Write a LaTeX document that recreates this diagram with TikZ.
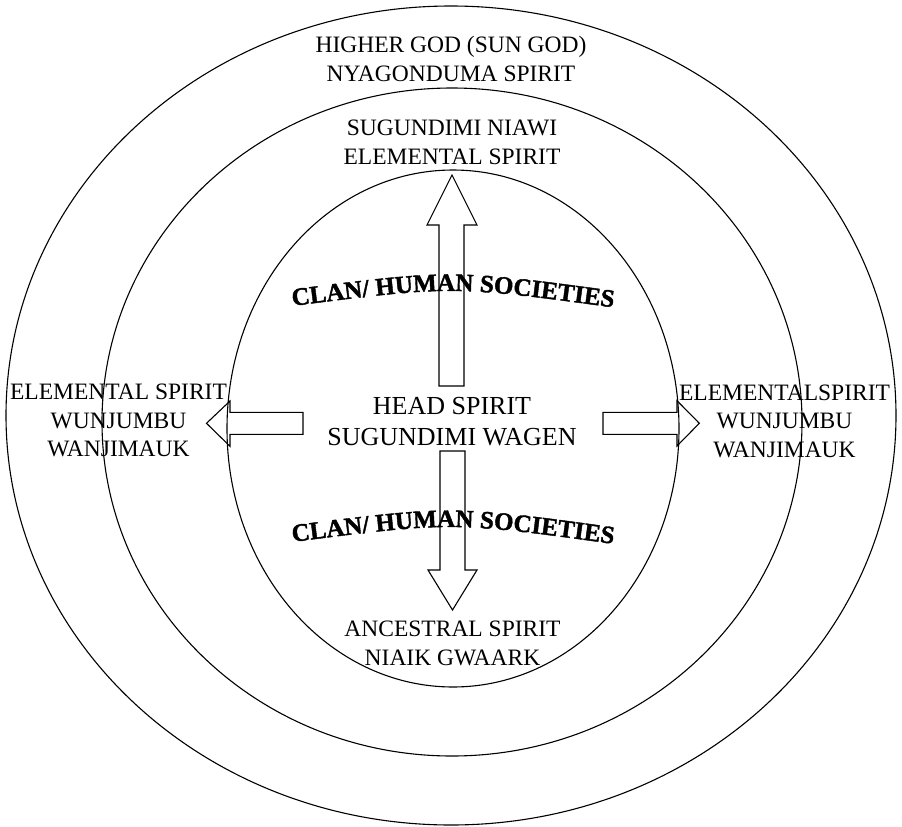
\documentclass[tikz,border=0pt]{standalone}
\usepackage{fontspec}
\setmainfont{Liberation Serif}
\newfontfamily\clanfont[FakeBold=1.6]{Liberation Serif Bold}
\usetikzlibrary{decorations.text}

\begin{document}
\begin{tikzpicture}[
  x=1pt, y=-1pt,
  font=\fontsize{23.5}{28.5}\selectfont,
  ring/.style={draw, line width=1.1pt},
  spirit/.style={align=center, anchor=base, inner sep=0pt},
  blockarrow/.style={draw, line width=1.1pt, line join=miter},
  clan/.style={decorate, decoration={text along path, text align=center,
      text format delimiters={|}{|},
      text={|\clanfont\fontsize{25}{27}\selectfont|CLAN/ HUMAN SOCIETIES}}}
]
\useasboundingbox (0,0) rectangle (902,827);

\draw[ring] (451,415.5) ellipse [x radius=445, y radius=409.5];
\draw[ring] (452,422) ellipse [x radius=350, y radius=334];
\draw[ring] (453,428.5) ellipse [x radius=226, y radius=258.5];

\node[spirit] (higher) at (451,81) {HIGHER GOD (SUN GOD)\\NYAGONDUMA SPIRIT};
\node[spirit] (niawi) at (452,164) {SUGUNDIMI NIAWI\\ELEMENTAL SPIRIT};
\node[spirit, font=\fontsize{26}{31}\selectfont] (head) at (452,445) {HEAD SPIRIT\\SUGUNDIMI WAGEN};
\node[spirit] (westspirit) at (118.5,456.5) {ELEMENTAL SPIRIT\\WUNJUMBU\\WANJIMAUK};
\node[spirit] (eastspirit) at (784.5,457) {ELEMENTALSPIRIT\\WUNJUMBU\\WANJIMAUK};
\node[spirit] (ancestral) at (452.5,665) {ANCESTRAL SPIRIT\\NIAIK GWAARK};

\path[clan] (288,306.5) .. controls (452,285.5) .. (618,308);
\path[clan] (288,542.5) .. controls (452,521.5) .. (618,544.5);

\draw[blockarrow] (439,386) -- (439,225) -- (427,225) -- (452,175) -- (477,225) -- (464,225) -- (464,386) -- cycle;
\draw[blockarrow] (440,451) -- (440,570) -- (428,570) -- (452.5,610) -- (477,570) -- (465,570) -- (465,451) -- cycle;
\draw[blockarrow] (303,412.3) -- (230,412.3) -- (230,401) -- (206.5,423.3) -- (230,446.3) -- (230,434.3) -- (303,434.3) -- cycle;
\draw[blockarrow] (603,412.3) -- (677,412.3) -- (677,400.7) -- (699.3,423.3) -- (677,446) -- (677,434.3) -- (603,434.3) -- cycle;
\end{tikzpicture}
\end{document}
